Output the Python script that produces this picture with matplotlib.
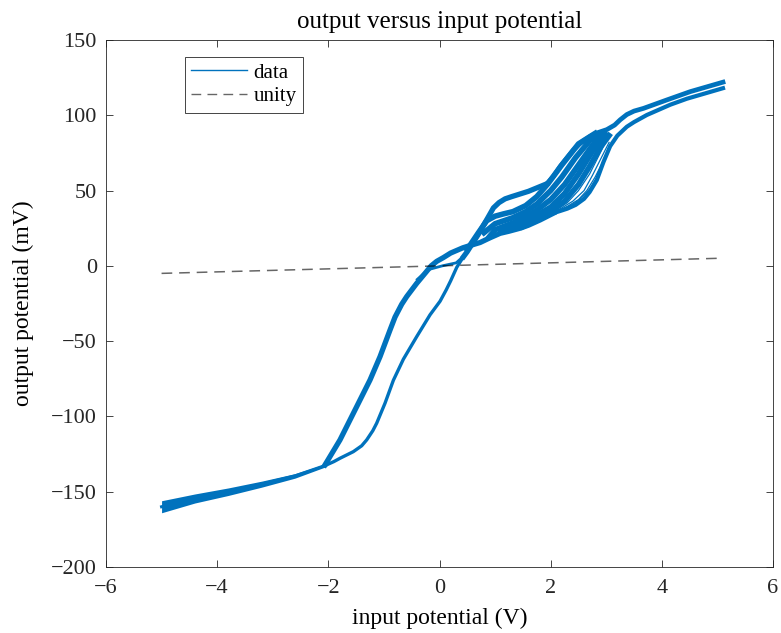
import matplotlib
matplotlib.use("Agg")
import matplotlib.pyplot as plt

plt.rcParams['font.family'] = ['Liberation Serif', 'DejaVu Serif']
plt.rcParams['lines.solid_joinstyle'] = 'round'

BLUE = '#0072BD'

# ---- data (input potential V, output potential mV) ----
# lower tail (band edges and centre)
tail_x = [-5.0, -4.4, -3.8, -3.2, -2.6, -2.05]
tail_y = [-160, -154.5, -150, -145, -139.5, -132.5]
tail_hi = [-156, -151.5, -147.5, -143, -138, -131.5]
tail_lo = [-164, -157.5, -152.5, -147, -141, -133.5]

# increasing input: right-hand rising branch
rise_x = [-2.05, -1.9, -1.79, -1.55, -1.4, -1.31, -1.2, -1.13, -0.98, -0.83, -0.65,
          -0.41, -0.17, 0.01, 0.12, 0.2, 0.31, 0.43]
rise_y = [-132.5, -130, -127.8, -123.4, -119.5, -115.6, -109.5, -104.5, -91.2, -76, -62,
          -47, -32.5, -23.5, -16, -10, -1, 6]
# increasing input: top of the small loop
looptop_x = [0.43, 0.5, 0.56, 0.7, 0.87, 0.97, 1.07, 1.18, 1.3, 1.6, 1.93]
looptop_y = [6, 9.5, 13, 21, 32, 38.5, 42, 44.5, 46, 49.5, 54.5]
# increasing input: upper edge of fan and upper right branch
uptop_x = [1.93, 2.05, 2.17, 2.3, 2.41, 2.55, 2.71, 2.85, 3.01, 3.15, 3.25, 3.37, 3.5,
           3.67, 4.09, 4.51, 5.1]
uptop_y = [54.5, 59.5, 66, 72, 77, 82, 86, 88.5, 90.5, 93.5, 97, 100.5, 102.8,
           104.6, 110.2, 115.7, 122]

# decreasing input: lower right branch and lower edge of fan
downr_x = [5.1, 4.45, 4.15, 3.73, 3.5, 3.37, 3.2, 3.07, 2.95, 2.83, 2.7, 2.6, 2.45, 2.3, 2.05]
downr_y = [118, 111, 107, 100.2, 95.5, 92.4, 86.5, 79.5, 69, 57, 49, 44.5, 40.5, 38, 35]
# decreasing input: bottom of small loop and left falling branch
downl_x = [2.05, 1.81, 1.6, 1.45, 1.25, 1.09, 0.9, 0.73, 0.55, 0.42, 0.2, 0.07, -0.05,
           -0.15, -0.25, -0.41, -0.59, -0.68, -0.8, -0.89, -1.07, -1.25, -1.49, -1.79, -2.06]
downl_y = [35, 30.5, 27, 25, 23, 21.6, 18.5, 15.5, 13.5, 12, 8.5, 5.5, 3,
           0, -4.5, -11.6, -20.4, -25.5, -34, -42.6, -60.3, -75.8, -93.5, -115.6, -132.2]

# faint inner trace near the origin
inner_x = [-0.4, -0.2, 0.05, 0.3, 0.45]
inner_y = [-9, -2.5, 0, 2, 7]

# fan of cycle-to-cycle traces between the two loops (dense, upper-left part)
fan_dense_x = [
    [0.5, 0.7, 0.85, 1.0, 1.15, 1.32, 1.55, 1.75, 1.95, 2.2, 2.5, 2.8],
    [0.8, 1.0, 1.32, 1.55, 1.75, 2.0, 2.2, 2.45, 2.7, 2.9],
    [0.9, 1.0, 1.32, 1.55, 1.75, 2.0, 2.25, 2.5, 2.75, 2.95],
    [1.1, 1.32, 1.55, 1.75, 2.0, 2.25, 2.5, 2.75, 3.0],
    [1.5, 1.75, 2.0, 2.25, 2.5, 2.7, 2.9, 3.05],
]
fan_dense_y = [
    [11, 22, 30, 33, 34.5, 36, 40, 46, 54.5, 67, 81, 88],
    [22, 28, 32, 36, 41, 50, 59, 72, 83, 88],
    [19.5, 24, 28.5, 32.5, 37, 44, 54, 67, 80, 87.5],
    [23, 25.5, 29.5, 33.5, 39, 48, 61, 76, 87],
    [26, 30.5, 36, 43, 54, 66, 79, 86.5],
]
# fan traces, sparse lower-right part
fan_sparse_x = [
    [1.9, 2.1, 2.3, 2.5, 2.7, 2.85, 3.0],
    [2.0, 2.2, 2.4, 2.6, 2.75, 2.9, 3.05],
    [2.1, 2.3, 2.5, 2.65, 2.8, 2.95, 3.07],
    [2.2, 2.4, 2.55, 2.7, 2.85, 2.98],
]
fan_sparse_y = [
    [32.5, 37, 42, 50, 61, 72, 83],
    [34.5, 38.5, 43, 50, 60, 71, 82],
    [36, 39.5, 44, 50, 59, 70, 80.5],
    [37.5, 41, 45, 51, 60, 71],
]

# unity reference line
unity_x = [-5.0, 5.1]
unity_y = [-5.0, 5.1]

x_ticks = [-6, -4, -2, 0, 2, 4, 6]
y_ticks = [-200, -150, -100, -50, 0, 50, 100, 150]

# ---- figure ----
fig = plt.figure(figsize=(7.81, 6.33), dpi=100)
ax = fig.add_axes([0.1357, 0.1043, 0.8541, 0.8325])

ax.fill_between(tail_x, tail_lo, tail_hi, color=BLUE, lw=0)
ax.plot(tail_x, tail_y, color=BLUE, lw=2.2, label='data')
ax.plot(rise_x, rise_y, color=BLUE, lw=2.4)
ax.plot(looptop_x, looptop_y, color=BLUE, lw=3.8)
ax.plot(uptop_x, uptop_y, color=BLUE, lw=3.4)
ax.plot(downr_x, downr_y, color=BLUE, lw=3.0)
ax.plot(downl_x, downl_y, color=BLUE, lw=3.8)
ax.plot(inner_x, inner_y, color=BLUE, lw=2.0)
for fx, fy in zip(fan_dense_x, fan_dense_y):
    ax.plot(fx, fy, color=BLUE, lw=4.0)
for fx, fy in zip(fan_sparse_x, fan_sparse_y):
    ax.plot(fx, fy, color=BLUE, lw=0.9)

ax.plot(unity_x, unity_y, color='k', alpha=0.6, lw=1.1,
        linestyle=(0, (7, 4.5)), label='unity', zorder=5)

ax.set_xlim(-6, 6)
ax.set_ylim(-200, 150)
ax.set_xticks(x_ticks)
ax.set_yticks(y_ticks)
ax.set_xticklabels([f"{t}".replace('-', '\u2212') for t in x_ticks])
ax.set_yticklabels([f"{t}".replace('-', '\u2212') for t in y_ticks])
ax.tick_params(direction='in', length=5, width=0.6, top=True, right=True,
               labelsize=16, colors='#262626')
ax.tick_params(axis='x', pad=8.5)
ax.tick_params(axis='y', pad=6.5)
for s in ax.spines.values():
    s.set_linewidth(0.6)
    s.set_color('#262626')

ax.set_title('output versus input potential', fontsize=18, pad=9)
ax.set_xlabel('input potential (V)', fontsize=17, labelpad=7)
ax.set_ylabel('output potential (mV)', fontsize=17, labelpad=12.5)

leg = ax.legend(loc='upper left', bbox_to_anchor=(0.118, 0.968), borderaxespad=0,
                fontsize=15, handlelength=2.7, frameon=True, fancybox=False,
                framealpha=1, edgecolor='#262626', borderpad=0.3,
                labelspacing=0.2, handletextpad=0.3)
leg.get_frame().set_linewidth(0.6)
for h in leg.get_lines():
    h.set_linewidth(1.0)

fig.savefig('out.png', dpi=100)
